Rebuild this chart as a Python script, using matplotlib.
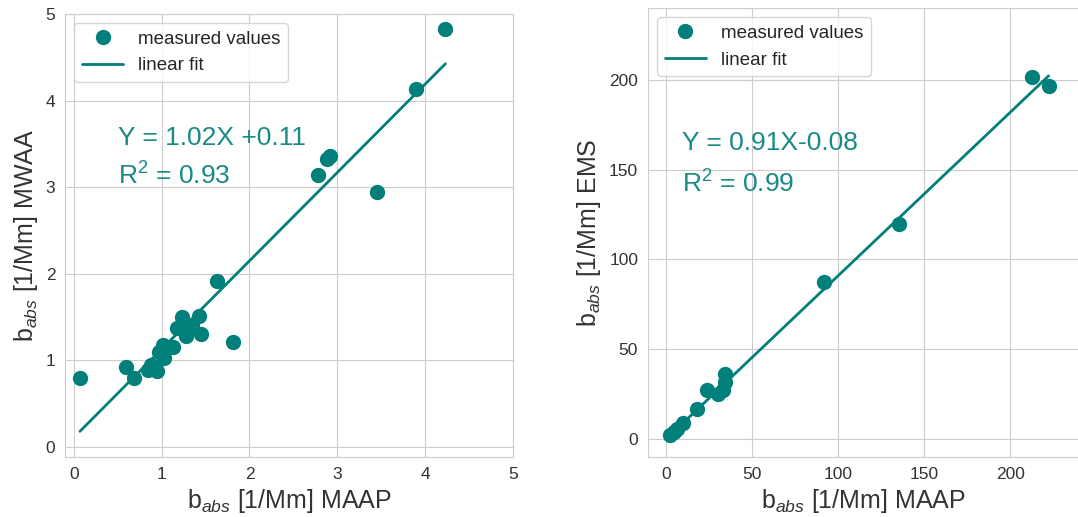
import matplotlib
matplotlib.use('Agg')
import matplotlib.pyplot as plt
import numpy as np
import seaborn as sns

# MWAA vs MAAP
maap_l = [0.07, 0.60, 0.68, 0.85, 0.88, 0.92, 0.95, 0.97, 1.02, 1.03, 1.08, 1.13,
          1.17, 1.23, 1.28, 1.34, 1.43, 1.45, 1.63, 1.81, 2.78, 2.88, 2.92, 3.45,
          3.90, 4.23]
mwaa = [0.80, 0.92, 0.80, 0.89, 0.95, 0.92, 0.88, 1.10, 1.18, 1.03, 1.16, 1.15,
        1.37, 1.50, 1.28, 1.40, 1.51, 1.31, 1.92, 1.21, 3.14, 3.33, 3.36, 2.95,
        4.13, 4.83]
fit_l = (1.02, 0.11)
r2_l = 0.93

# EMS vs MAAP
maap_r = [2.3, 4.5, 6.2, 10.0, 17.8, 23.6, 30.4, 33.3, 34.3, 34.3, 92.0, 135.6,
          212.6, 222.3]
ems = [2.5, 4.0, 5.5, 9.0, 17.0, 27.3, 25.0, 27.3, 32.0, 36.2, 87.3, 119.6,
       201.5, 196.8]
fit_r = (0.91, -0.08)
r2_r = 0.99

sns.set_style('whitegrid')
plt.rcParams['font.family'] = ['Liberation Sans', 'DejaVu Sans']
plt.rcParams['mathtext.fontset'] = 'custom'
plt.rcParams['mathtext.rm'] = 'Liberation Sans'
plt.rcParams['mathtext.it'] = 'Liberation Sans:italic'

col = '#007f7b'
txtcol = '#1a8a86'

fig = plt.figure(figsize=(10.78, 5.17), dpi=100)
ax1 = fig.add_axes([0.0603, 0.116, 0.4156, 0.857])
ax2 = fig.add_axes([0.601, 0.116, 0.40, 0.8685])


def panel(ax, x, y, fit, r2, eq, txt_xy, ylab):
    ax.plot(x, y, 'o', color=col, markersize=10, label='measured values')
    xs = np.array([min(x), max(x)])
    ax.plot(xs, fit[0] * xs + fit[1], '-', color=col, lw=2, label='linear fit')
    ax.text(txt_xy[0], txt_xy[1], eq, color=txtcol, fontsize=19, va='baseline')
    ax.text(txt_xy[0], txt_xy[2], 'R$^2$ = %.2f' % r2, color=txtcol,
            fontsize=19, va='baseline')
    ax.set_xlabel(r'b$_{abs}$ [1/Mm] MAAP', fontsize=18, color='#333333')
    ax.set_ylabel(r'b$_{abs}$ [1/Mm] ' + ylab, fontsize=18, color='#333333')
    ax.tick_params(labelsize=12.5, colors='#333333')
    ax.legend(loc='upper left', fontsize=13.5, frameon=True, numpoints=1,
              handlelength=2.2)
    for s in ax.spines.values():
        s.set_color('#cccccc')


panel(ax1, maap_l, mwaa, fit_l, r2_l, 'Y = 1.02X +0.11', (0.50, 3.49, 3.03), 'MWAA')
ax1.set_xlim(-0.1, 5)
ax1.set_ylim(-0.115, 5)
ax1.set_xticks(range(6))
ax1.set_yticks(range(6))

panel(ax2, maap_r, ems, fit_r, r2_r, 'Y = 0.91X-0.08', (9.3, 161, 137), 'EMS')
ax2.set_xlim(-10.5, 240)
ax2.set_ylim(-10, 240)
ax2.set_xticks([0, 50, 100, 150, 200])
ax2.set_yticks([0, 50, 100, 150, 200])

fig.savefig('out.png', dpi=100)
